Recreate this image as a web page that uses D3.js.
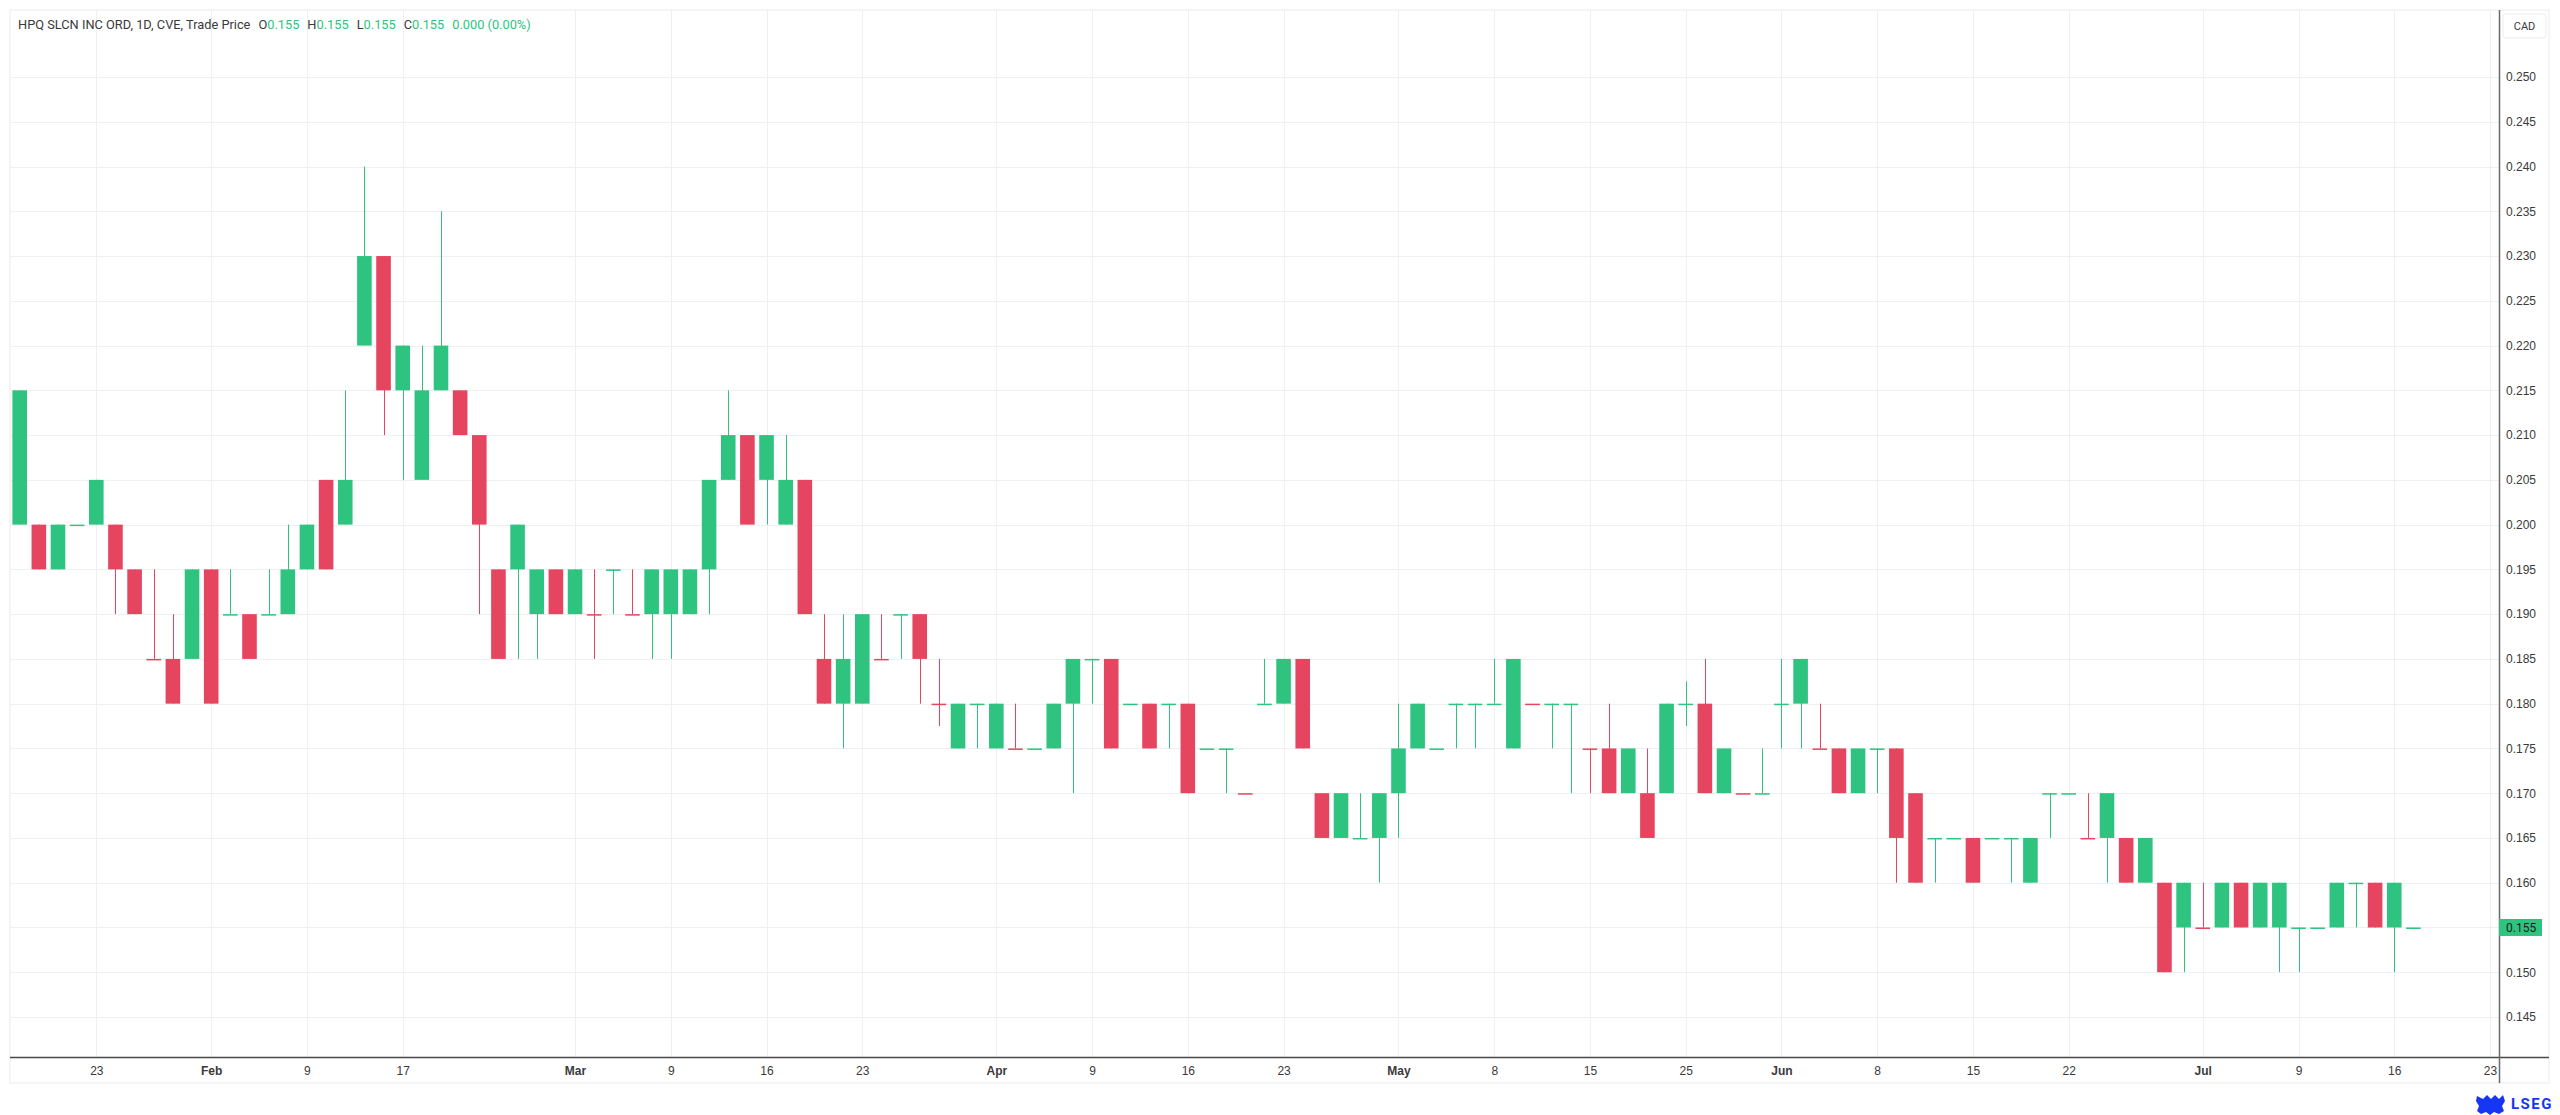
<!DOCTYPE html>
<html>
<head>
<meta charset="utf-8">
<script src="https://cdn.jsdelivr.net/npm/d3@7"></script>
<style>
  html, body { margin: 0; padding: 0; background: #ffffff; }
  svg { display: block; font-family: Roboto, "Noto Sans", sans-serif; }
</style>
</head>
<body>
<div id="chart"></div>
<script>
// trading days (TSX-V, 2026) grouped by month, plus 4 future days on the axis
var tradingDays = {
  Jan: [19, 20, 21, 22, 23, 26, 27, 28, 29, 30],
  Feb: [2, 3, 4, 5, 6, 9, 10, 11, 12, 13, 17, 18, 19, 20, 23, 24, 25, 26, 27],
  Mar: [2, 3, 4, 5, 6, 9, 10, 11, 12, 13, 16, 17, 18, 19, 20, 23, 24, 25, 26, 27, 30, 31],
  Apr: [1, 2, 6, 7, 8, 9, 10, 13, 14, 15, 16, 17, 20, 21, 22, 23, 24, 27, 28, 29, 30],
  May: [1, 4, 5, 6, 7, 8, 11, 12, 13, 14, 15, 19, 20, 21, 22, 25, 26, 27, 28, 29],
  Jun: [1, 2, 3, 4, 5, 8, 9, 10, 11, 12, 15, 16, 17, 18, 19, 22, 23, 24, 25, 26, 29, 30],
  Jul: [2, 3, 6, 7, 8, 9, 10, 13, 14, 15, 16, 17]
};
var futureDays = ["Jul 20", "Jul 21", "Jul 22", "Jul 23"];

var opens = [
  .200, .200, .195, .200, .200, .200, .195, .185, .185, .185,
  .195, .190, .190, .190, .190, .195, .205, .200, .220, .230,
  .215, .205, .215, .215, .210, .195, .195, .190, .195, .190,
  .190, .195, .190, .190, .190, .190, .195, .205, .210, .205,
  .200, .205, .185, .180, .180, .185, .190, .190, .180, .175,
  .180, .175, .175, .175, .175, .180, .185, .185, .180, .180,
  .180, .180, .175, .175, .170, .180, .180, .185, .170, .165,
  .165, .165, .170, .175, .175, .180, .180, .180, .175, .180,
  .180, .180, .175, .175, .170, .170, .170, .180, .180, .170,
  .170, .170, .180, .180, .175, .175, .170, .175, .175, .170,
  .165, .165, .165, .165, .165, .160, .170, .170, .165, .165,
  .165, .160, .160, .155, .155, .155, .160, .155, .155, .155,
  .155, .155, .160, .160, .155, .155
];
var highs = [
  .215, .200, .200, .200, .205, .200, .195, .195, .190, .195,
  .195, .195, .190, .195, .200, .200, .205, .215, .240, .230,
  .220, .220, .235, .215, .210, .195, .200, .195, .195, .195,
  .195, .195, .195, .195, .195, .195, .205, .215, .210, .210,
  .210, .205, .190, .190, .190, .190, .190, .190, .185, .180,
  .180, .180, .180, .175, .180, .185, .185, .185, .180, .180,
  .180, .180, .175, .175, .170, .185, .185, .185, .170, .170,
  .170, .170, .180, .180, .175, .180, .180, .185, .185, .180,
  .180, .180, .175, .180, .175, .175, .180, .1825, .185, .175,
  .170, .175, .185, .185, .180, .175, .175, .175, .175, .170,
  .165, .165, .165, .165, .165, .165, .170, .170, .170, .170,
  .165, .165, .160, .160, .160, .160, .160, .160, .160, .155,
  .155, .160, .160, .160, .160, .155
];
var lows = [
  .200, .195, .195, .200, .200, .190, .190, .185, .180, .185,
  .180, .190, .185, .190, .190, .195, .195, .200, .220, .210,
  .205, .205, .215, .210, .190, .185, .185, .185, .190, .190,
  .185, .190, .190, .185, .185, .190, .190, .205, .200, .200,
  .200, .190, .180, .175, .180, .185, .185, .180, .1775, .175,
  .175, .175, .175, .175, .175, .170, .180, .175, .180, .175,
  .175, .170, .175, .170, .170, .180, .180, .175, .165, .165,
  .165, .160, .165, .175, .175, .175, .175, .180, .175, .180,
  .175, .170, .170, .170, .170, .165, .170, .1775, .170, .170,
  .170, .170, .175, .175, .175, .170, .170, .170, .160, .160,
  .160, .165, .160, .165, .160, .160, .165, .170, .165, .160,
  .160, .160, .150, .150, .155, .155, .155, .155, .150, .150,
  .155, .155, .155, .155, .150, .155
];
var closes = [
  .215, .195, .200, .200, .205, .195, .190, .185, .180, .195,
  .180, .190, .185, .190, .195, .200, .195, .205, .230, .215,
  .220, .215, .220, .210, .200, .185, .200, .195, .190, .195,
  .190, .195, .190, .195, .195, .195, .205, .210, .200, .210,
  .205, .190, .180, .185, .190, .185, .190, .185, .180, .180,
  .180, .180, .175, .175, .180, .185, .185, .175, .180, .175,
  .180, .170, .175, .175, .170, .180, .185, .175, .165, .170,
  .165, .170, .175, .180, .175, .180, .180, .180, .185, .180,
  .180, .180, .175, .170, .175, .165, .180, .180, .170, .175,
  .170, .170, .180, .185, .175, .170, .175, .175, .165, .160,
  .165, .165, .160, .165, .165, .165, .170, .170, .165, .170,
  .160, .165, .150, .160, .155, .160, .155, .160, .160, .155,
  .155, .160, .160, .155, .160, .155
];
// bars with open == close that are drawn as down bars
var flatDownBars = [7, 30, 32, 45, 48, 52, 64, 79, 82, 90, 94, 108, 114];

var priceTicks = d3.range(0, 22).map(function (k) { return +(0.145 + k * 0.005).toFixed(3); });
var timeTicks = [
  ["Jan 23", "23"], ["Feb 2", "Feb"], ["Feb 9", "9"], ["Feb 17", "17"],
  ["Mar 2", "Mar"], ["Mar 9", "9"], ["Mar 16", "16"], ["Mar 23", "23"],
  ["Apr 1", "Apr"], ["Apr 9", "9"], ["Apr 16", "16"], ["Apr 23", "23"],
  ["May 1", "May"], ["May 8", "8"], ["May 15", "15"], ["May 25", "25"],
  ["Jun 1", "Jun"], ["Jun 8", "8"], ["Jun 15", "15"], ["Jun 22", "22"],
  ["Jul 2", "Jul"], ["Jul 9", "9"], ["Jul 16", "16"], ["Jul 23", "23"]
];
var monthLabels = ["Feb", "Mar", "Apr", "May", "Jun", "Jul"];

var last = { o: 0.155, h: 0.155, l: 0.155, c: 0.155, chg: "0.000", pct: "(0.00%)" };

var up = "#2ec480", down = "#e64560";

var width = 2560, height = 1115;
var pane = { left: 10, top: 10, right: 2499, bottom: 1057 };

var dates = [];
Object.keys(tradingDays).forEach(function (m) {
  tradingDays[m].forEach(function (d) { dates.push(m + " " + d); });
});
var axisDates = dates.concat(futureDays);

var bars = dates.map(function (d, i) {
  var dir = closes[i] > opens[i] ? 1 : closes[i] < opens[i] ? -1 :
    (flatDownBars.indexOf(i) >= 0 ? -1 : 1);
  return { date: d, o: opens[i], h: highs[i], l: lows[i], c: closes[i], dir: dir };
});

var x = d3.scalePoint().domain(axisDates).range([19.7, 2490]);
var y = d3.scaleLinear().domain([0.145, 0.250]).range([1017, 77]);
var barW = 14.6;

var svg = d3.select("#chart").append("svg")
  .attr("width", width).attr("height", height);

// pane frame
svg.append("rect")
  .attr("x", pane.left).attr("y", pane.top)
  .attr("width", 2549 - pane.left).attr("height", 1083 - pane.top)
  .attr("fill", "#fff").attr("stroke", "#ebebeb");

// grid
var grid = svg.append("g").attr("class", "grid");
grid.selectAll("line.h").data(priceTicks).enter().append("line")
  .attr("x1", pane.left).attr("x2", pane.right)
  .attr("y1", function (d) { return Math.round(y(d)) + 0.5; })
  .attr("y2", function (d) { return Math.round(y(d)) + 0.5; })
  .attr("stroke", "#f0f0f0");
grid.selectAll("line.v").data(timeTicks).enter().append("line")
  .attr("x1", function (d) { return Math.round(x(d[0])) + 0.5; })
  .attr("x2", function (d) { return Math.round(x(d[0])) + 0.5; })
  .attr("y1", pane.top).attr("y2", pane.bottom)
  .attr("stroke", "#f0f0f0");

// candles
var candle = svg.append("g").attr("class", "candles")
  .selectAll("g").data(bars).enter().append("g")
  .attr("fill", function (d) { return d.dir > 0 ? up : down; })
  .attr("stroke", function (d) { return d.dir > 0 ? up : down; });

candle.append("line")
  .attr("x1", function (d) { return Math.round(x(d.date)) + 0.5; })
  .attr("x2", function (d) { return Math.round(x(d.date)) + 0.5; })
  .attr("y1", function (d) { return y(d.h); })
  .attr("y2", function (d) { return y(d.l); })
  .attr("stroke-width", 1);

candle.append("rect")
  .attr("x", function (d) { return x(d.date) - barW / 2; })
  .attr("width", barW)
  .attr("y", function (d) { return y(Math.max(d.o, d.c)); })
  .attr("height", function (d) { return Math.max(1.5, y(Math.min(d.o, d.c)) - y(Math.max(d.o, d.c))); })
  .attr("stroke", "none");

// time axis
var xAxis = d3.axisBottom(x)
  .tickValues(timeTicks.map(function (d) { return d[0]; }))
  .tickFormat(function (d) {
    return timeTicks.find(function (t) { return t[0] === d; })[1];
  })
  .tickSize(0).tickPadding(9);

var gx = svg.append("g")
  .attr("transform", "translate(0," + pane.bottom + ")")
  .call(xAxis);
gx.select(".domain").remove();
gx.selectAll("text")
  .attr("fill", "#3a3a3a")
  .attr("font-size", 12)
  .attr("font-weight", function (d) {
    var lab = timeTicks.find(function (t) { return t[0] === d; })[1];
    return monthLabels.indexOf(lab) >= 0 ? 700 : 400;
  });

svg.append("line")
  .attr("x1", pane.left).attr("x2", 2549)
  .attr("y1", pane.bottom + 0.5).attr("y2", pane.bottom + 0.5)
  .attr("stroke", "#4a4a4a").attr("stroke-width", 1.5);

// price axis
var yAxis = d3.axisRight(y)
  .tickValues(priceTicks)
  .tickFormat(d3.format(".3f"))
  .tickSize(0).tickPadding(7);

var gy = svg.append("g")
  .attr("transform", "translate(" + pane.right + ",0)")
  .call(yAxis);
gy.select(".domain").remove();
gy.selectAll("text").attr("fill", "#3a3a3a").attr("font-size", 12);

svg.append("line")
  .attr("x1", pane.right + 0.5).attr("x2", pane.right + 0.5)
  .attr("y1", pane.top).attr("y2", 1083)
  .attr("stroke", "#6a6a6a").attr("stroke-width", 1.5);

// currency badge
svg.append("rect")
  .attr("x", 2503).attr("y", 14).attr("width", 43).attr("height", 24)
  .attr("rx", 3).attr("fill", "#fff").attr("stroke", "#ececec");
svg.append("text")
  .attr("x", 2524.5).attr("y", 30).attr("text-anchor", "middle")
  .attr("font-size", 11).attr("fill", "#3a3a3a").text("CAD");

// last price label
svg.append("rect")
  .attr("x", pane.right).attr("y", y(last.c) - 8.5)
  .attr("width", 43).attr("height", 17)
  .attr("fill", up);
svg.append("text")
  .attr("x", pane.right + 7).attr("y", y(last.c) + 4.5)
  .attr("font-size", 12).attr("fill", "#1a1a1a")
  .text(d3.format(".3f")(last.c));

// legend line
var legend = svg.append("text")
  .attr("x", 18).attr("y", 29)
  .attr("font-size", 12.8).attr("fill", "#3a3a3a");
legend.append("tspan").text("HPQ SLCN INC ORD, 1D, CVE, Trade Price");
[["O", last.o], ["H", last.h], ["L", last.l], ["C", last.c]].forEach(function (p) {
  legend.append("tspan").attr("dx", 8).text(p[0]);
  legend.append("tspan").attr("fill", up).text(d3.format(".3f")(p[1]));
});
legend.append("tspan").attr("dx", 8).attr("fill", up).text(last.chg + " " + last.pct);

// LSEG mark
var logo = svg.append("g").attr("fill", "#1636f5");
logo.append("path")
  .attr("d", "M2477,1096 l6,3 l4,-4 l4,4 l4,-4 l4,4 l4,-4 l2,6 l-3,5 l2,5 l-5,3 l-5,-2 l-4,3 l-4,-3 l-5,2 l-4,-3 l2,-5 l-3,-5 z");
logo.append("text")
  .attr("x", 2511).attr("y", 1109)
  .attr("font-size", 15).attr("font-weight", 700)
  .attr("letter-spacing", 1.5)
  .text("LSEG");
</script>
</body>
</html>
